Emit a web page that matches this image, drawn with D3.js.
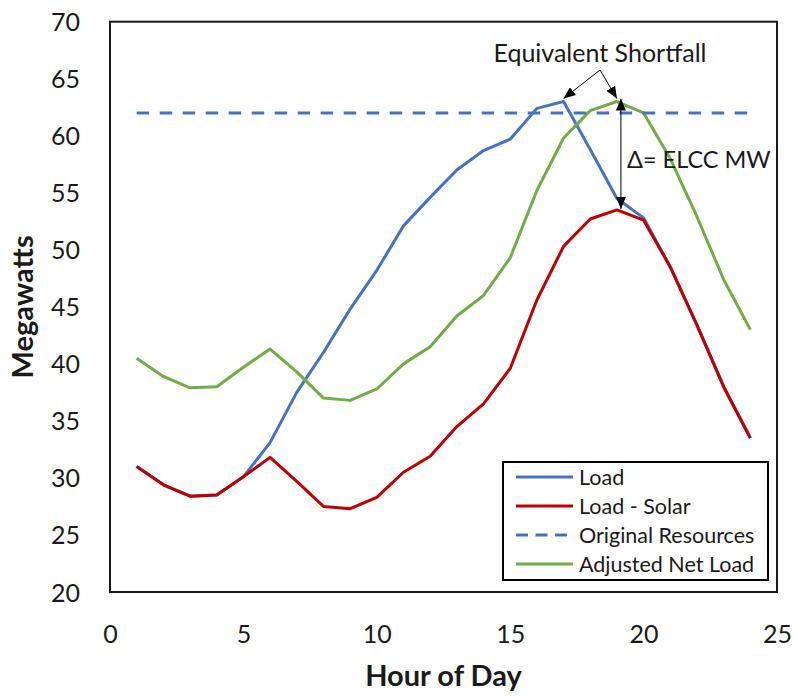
<!DOCTYPE html>
<html>
<head>
<meta charset="utf-8">
<script src="https://cdn.jsdelivr.net/npm/d3@7"></script>
<style>
  body { margin: 0; background: #fff; }
  text { font-family: Lato, "Open Sans", sans-serif; fill: #1a1a1a; }
</style>
</head>
<body>
<script>
// hours 1..24
var hours = d3.range(1, 25);
var load      = [31.0, 29.4, 28.4, 28.5, 30.1, 33.1, 37.5, 41.0, 44.8, 48.2, 52.1, 54.6,
                 57.0, 58.7, 59.7, 62.4, 63.0, 58.8, 54.5, 52.8, 48.5, 43.4, 38.0, 33.5];
var loadSolar = [31.0, 29.4, 28.4, 28.5, 30.1, 31.8, 29.7, 27.5, 27.3, 28.3, 30.5, 31.9,
                 34.5, 36.5, 39.6, 45.6, 50.3, 52.7, 53.5, 52.6, 48.5, 43.4, 38.0, 33.5];
var resources = [62, 62, 62, 62, 62, 62, 62, 62, 62, 62, 62, 62,
                 62, 62, 62, 62, 62, 62, 62, 62, 62, 62, 62, 62];
var adjusted  = [40.5, 38.9, 37.9, 38.0, 39.7, 41.3, 39.3, 37.0, 36.8, 37.8, 40.0, 41.5,
                 44.2, 46.0, 49.3, 55.2, 59.8, 62.2, 63.0, 62.0, 58.0, 52.9, 47.4, 43.0];
var xTicks = [0, 5, 10, 15, 20, 25];
var yTicks = [20, 25, 30, 35, 40, 45, 50, 55, 60, 65, 70];

var series = [
  { name: "Load", values: load, color: "#4472C4", dash: null },
  { name: "Load - Solar", values: loadSolar, color: "#C00000", dash: null },
  { name: "Original Resources", values: resources, color: "#4472C4", dash: "12.5,10.5" },
  { name: "Adjusted Net Load", values: adjusted, color: "#70AD47", dash: null }
];
// drawing order: blue first, red over it, then dashed and green
var drawOrder = [0, 1, 3, 2];

var width = 796, height = 696;
var plot = { left: 110, right: 777, top: 21.7, bottom: 592 };

var svg = d3.select("body").append("svg")
    .attr("width", width)
    .attr("height", height);

var x = d3.scaleLinear().domain([0, 25]).range([plot.left, plot.right]);
var y = d3.scaleLinear().domain([20, 70]).range([plot.bottom, plot.top]);

// axes (labels only, no tick marks)
var xAxis = svg.append("g")
    .attr("transform", "translate(0," + plot.bottom + ")")
    .call(d3.axisBottom(x).tickValues(xTicks).tickSize(0).tickPadding(0));
xAxis.select(".domain").remove();
xAxis.selectAll("text")
    .attr("y", 51)
    .attr("dy", null)
    .style("font-size", "25px")
    .style("font-family", "Lato, sans-serif")
    .attr("fill", "#1a1a1a");

var yAxis = svg.append("g")
    .attr("transform", "translate(" + plot.left + ",0)")
    .call(d3.axisLeft(y).tickValues(yTicks).tickSize(0).tickPadding(30));
yAxis.select(".domain").remove();
yAxis.selectAll("text")
    .attr("dy", "0.36em")
    .style("font-size", "25px")
    .style("font-family", "Lato, sans-serif")
    .attr("fill", "#1a1a1a");

// frame
svg.append("rect")
    .attr("x", plot.left)
    .attr("y", plot.top)
    .attr("width", plot.right - plot.left)
    .attr("height", plot.bottom - plot.top)
    .attr("fill", "none")
    .attr("stroke", "#1a1a1a")
    .attr("stroke-width", 2);

var line = d3.line()
    .x(function(d, i) { return x(hours[i]); })
    .y(function(d) { return y(d); });

drawOrder.forEach(function(k) {
  var s = series[k];
  svg.append("path")
      .datum(s.values)
      .attr("d", line)
      .attr("fill", "none")
      .attr("stroke", s.color)
      .attr("stroke-width", 3)
      .attr("stroke-linejoin", "round")
      .attr("stroke-dasharray", s.dash);
});

// arrow markers
var defs = svg.append("defs");
defs.append("marker")
    .attr("id", "head")
    .attr("viewBox", "0 0 12 10")
    .attr("refX", 12)
    .attr("refY", 5)
    .attr("markerWidth", 12)
    .attr("markerHeight", 10)
    .attr("markerUnits", "userSpaceOnUse")
    .attr("orient", "auto-start-reverse")
    .append("path")
    .attr("d", "M0,0 L12,5 L0,10 Z")
    .attr("fill", "#000");

// Equivalent Shortfall annotation
svg.append("text")
    .attr("x", 600)
    .attr("y", 62)
    .attr("text-anchor", "middle")
    .style("font-size", "25px")
    .text("Equivalent Shortfall");

var apex = [600, 70];
var peakLoad = [x(17), y(d3.max(load)) - 3];
var peakAdj = [x(19), y(d3.max(adjusted)) - 3];
[peakLoad, peakAdj].forEach(function(p) {
  svg.append("line")
      .attr("x1", apex[0]).attr("y1", apex[1])
      .attr("x2", p[0]).attr("y2", p[1])
      .attr("stroke", "#000")
      .attr("stroke-width", 1)
      .attr("marker-end", "url(#head)");
});

// delta arrow at hour 19
var dx = x(19) + 4;
svg.append("line")
    .attr("x1", dx).attr("y1", y(loadSolar[18]) - 1)
    .attr("x2", dx).attr("y2", y(adjusted[18]) - 3)
    .attr("stroke", "#000")
    .attr("stroke-width", 1)
    .attr("marker-start", "url(#head)")
    .attr("marker-end", "url(#head)");

svg.append("text")
    .attr("x", 627)
    .attr("y", 168)
    .style("font-size", "23.5px")
    .text("\u0394= ELCC MW");

// legend
var legend = svg.append("g");
legend.append("rect")
    .attr("x", 503).attr("y", 462)
    .attr("width", 265).attr("height", 118)
    .attr("fill", "#fff")
    .attr("stroke", "#000")
    .attr("stroke-width", 2);

var rows = legend.selectAll("g.row")
    .data(series)
    .enter().append("g")
    .attr("class", "row")
    .attr("transform", function(d, i) { return "translate(0," + (477 + i * 29) + ")"; });

rows.append("line")
    .attr("x1", 516).attr("x2", 573)
    .attr("stroke", function(d) { return d.color; })
    .attr("stroke-width", 3)
    .attr("stroke-dasharray", function(d) { return d.dash ? "12,7.5" : null; });

rows.append("text")
    .attr("x", 579)
    .attr("dy", "0.36em")
    .style("font-size", "21.5px")
    .text(function(d) { return d.name; });

// axis titles
svg.append("text")
    .attr("x", (plot.left + plot.right) / 2)
    .attr("y", 686)
    .attr("text-anchor", "middle")
    .style("font-size", "29px")
    .style("font-weight", "bold")
    .text("Hour of Day");

svg.append("text")
    .attr("transform", "translate(33," + ((plot.top + plot.bottom) / 2) + ") rotate(-90)")
    .attr("text-anchor", "middle")
    .style("font-size", "29px")
    .style("font-weight", "bold")
    .text("Megawatts");
</script>
</body>
</html>
